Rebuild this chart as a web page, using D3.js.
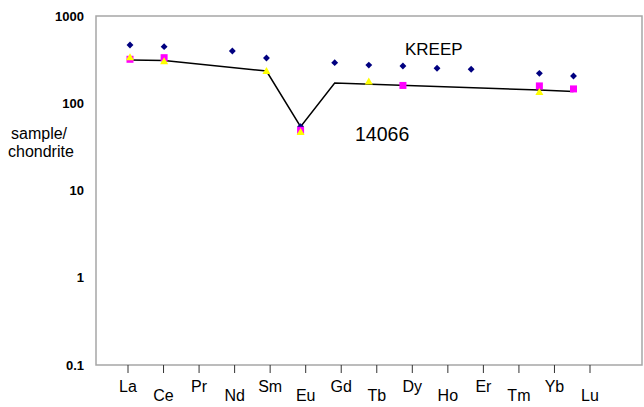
<html>
<head>
<meta charset="utf-8">
<style>
  body { margin: 0; background: #fff; }
  text { font-family: "Liberation Sans", Arial, sans-serif; }
</style>
</head>
<body>
<svg id="chart"></svg>
<script src="https://d3js.org/d3.v7.min.js"></script>
<script>
// chondrite-normalised REE pattern, 14066 vs KREEP
var elements = ['La', 'Ce', 'Pr', 'Nd', 'Sm', 'Eu', 'Gd', 'Tb', 'Dy', 'Ho', 'Er', 'Tm', 'Yb', 'Lu']

// KREEP (navy diamonds), null = not plotted
var kreep = [465, 445, null, 397, 330, 54, 292, 274, 267, 252, 245, null, 220, 205]
// 14066 analyses
var squares = [319, 333, null, null, null, 49, null, null, 160, null, null, null, 158, 146]
var triangles = [330, 297, null, null, 230, 46, null, 174, null, null, null, null, 132, null]
// 14066 pattern line
var pattern = [313, 308, null, null, 234, 54, 171, null, null, null, null, null, 142, 136]

var yTicks = [1000, 100, 10, 1, 0.1]

var width = 644, height = 407
var plot = { left: 96, right: 642, top: 16, bottom: 365 }

var svg = d3.select('#chart').attr('width', width).attr('height', height)

var y = d3.scaleLog().domain([0.1, 1000]).range([plot.bottom, plot.top])
// the points and the category ticks do not line up in the original
var x = d3.scaleLinear().domain([0, 13]).range([130, 573.5])
var xAxisPos = d3.scaleLinear().domain([0, 13]).range([128, 590])

// plot frame
svg.append('rect')
    .attr('x', plot.left).attr('y', plot.top)
    .attr('width', plot.right - plot.left).attr('height', plot.bottom - plot.top)
    .attr('fill', 'none').attr('stroke', '#a6a6a6').attr('stroke-width', 1.5)

// y labels (bold, no tick marks)
svg.selectAll('.ylab').data(yTicks).enter().append('text')
    .attr('class', 'ylab')
    .attr('x', 84)
    .attr('y', function(d) { return y(d) + 4.5 })
    .attr('text-anchor', 'end')
    .attr('font-size', 13).attr('font-weight', 'bold')
    .text(function(d) { return d >= 1 ? d3.format('d')(d) : d })

// x ticks + staggered labels
var xg = svg.append('g')
xg.selectAll('line').data(elements).enter().append('line')
    .attr('x1', function(d, i) { return xAxisPos(i) })
    .attr('x2', function(d, i) { return xAxisPos(i) })
    .attr('y1', plot.bottom).attr('y2', plot.bottom + 8)
    .attr('stroke', '#333').attr('stroke-width', 1)
xg.selectAll('text').data(elements).enter().append('text')
    .attr('x', function(d, i) { return xAxisPos(i) })
    .attr('y', function(d, i) { return i % 2 === 0 ? 392 : 401 })
    .attr('text-anchor', 'middle')
    .attr('font-size', 16)
    .text(function(d) { return d })

// axis title
svg.append('text').attr('x', 11).attr('y', 139).attr('font-size', 16).text('sample/')
svg.append('text').attr('x', 8).attr('y', 157).attr('font-size', 16).text('chondrite')

// pattern line
var line = d3.line()
    .x(function(d) { return x(d.i) })
    .y(function(d) { return y(d.v) })
var patternPts = pattern.map(function(v, i) { return { i: i, v: v } })
    .filter(function(d) { return d.v !== null })
svg.append('path').datum(patternPts)
    .attr('d', line)
    .attr('fill', 'none').attr('stroke', '#000').attr('stroke-width', 1.5)

function pts(arr) {
    return arr.map(function(v, i) { return { i: i, v: v } })
        .filter(function(d) { return d.v !== null })
}

// navy diamonds
svg.selectAll('.kreep').data(pts(kreep)).enter().append('path')
    .attr('class', 'kreep')
    .attr('d', d3.symbol().type(d3.symbolDiamond2).size(30))
    .attr('transform', function(d) { return 'translate(' + x(d.i) + ',' + y(d.v) + ')' })
    .attr('fill', '#000080')

// magenta squares
svg.selectAll('.sq').data(pts(squares)).enter().append('rect')
    .attr('class', 'sq')
    .attr('x', function(d) { return x(d.i) - 3.5 })
    .attr('y', function(d) { return y(d.v) - 3.5 })
    .attr('width', 7).attr('height', 7)
    .attr('fill', '#ff00ff')

// yellow triangles
svg.selectAll('.tri').data(pts(triangles)).enter().append('path')
    .attr('class', 'tri')
    .attr('d', d3.symbol().type(d3.symbolTriangle).size(28))
    .attr('transform', function(d) { return 'translate(' + x(d.i) + ',' + y(d.v) + ')' })
    .attr('fill', '#ffff00')

// labels
svg.append('text').attr('x', 405).attr('y', 55).attr('font-size', 17).text('KREEP')
svg.append('text').attr('x', 355).attr('y', 141).attr('font-size', 19.5).text('14066')
</script>
</body>
</html>
